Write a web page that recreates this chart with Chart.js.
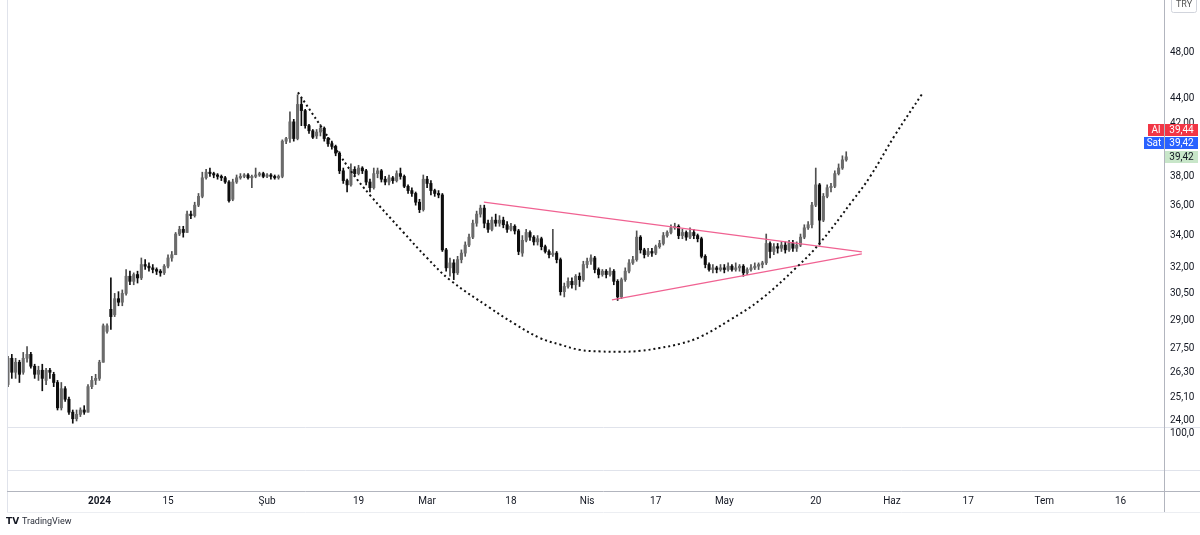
<!DOCTYPE html>
<html><head><meta charset="utf-8">
<script src="https://cdn.jsdelivr.net/npm/chart.js@4/dist/chart.umd.min.js"></script>
<style>html,body{margin:0;padding:0;background:#fff;}canvas{display:block}</style>
</head><body>
<canvas id="c" width="1200" height="535"></canvas>
<script>
// ---- data (half-day bars, index 0 = mid Dec 2023) ----
const opens = [
25.7,27.0,26.3,26.8,26.3,27.0,27.2,26.6,26.2,26.4,
25.9,26.4,26.2,25.8,24.6,25.5,25.0,24.4,24.1,24.3,
24.5,24.4,25.6,25.9,26.0,26.8,28.4,29.6,29.3,30.2,
30.0,30.5,31.5,31.2,31.6,31.4,32.2,32.1,32.0,31.9,
31.8,31.7,32.1,32.6,32.8,34.1,34.4,34.2,35.4,35.3,
36.0,36.6,37.9,38.3,38.2,38.1,38.0,37.9,37.6,36.4,
37.6,37.9,38.0,38.1,37.9,38.0,38.1,38.2,38.0,38.1,
38.0,37.9,38.0,40.6,40.8,42.1,40.8,43.5,43.0,41.8,
41.4,41.0,41.3,41.6,40.8,40.4,40.2,39.7,38.4,37.7,
37.4,38.5,38.2,38.6,38.4,37.6,37.2,38.2,38.4,37.8,
37.6,37.9,37.7,38.2,38.0,37.3,37.0,36.8,36.2,35.7,
37.8,37.5,37.0,36.8,36.7,33.1,32.0,32.3,31.7,32.5,
32.9,33.4,33.9,34.8,35.4,35.8,34.8,34.4,35.0,34.8,
35.0,34.7,34.4,34.6,34.3,32.9,33.7,34.2,33.9,33.6,
33.8,33.3,33.0,32.8,32.9,32.5,30.6,30.9,31.2,31.0,
31.5,31.3,32.2,32.4,32.6,31.9,31.6,31.8,31.6,31.8,
31.2,30.3,31.3,31.8,32.3,32.5,33.9,33.1,32.8,33.0,
32.9,33.3,33.5,34.0,34.2,34.5,34.6,34.0,34.2,33.9,
34.2,34.0,33.8,32.7,32.2,31.9,32.0,31.9,32.0,31.9,
32.1,31.9,32.0,32.1,31.7,31.9,32.0,32.1,32.2,32.3,
33.5,33.0,33.3,33.2,33.4,33.1,33.5,33.2,33.4,33.9,
34.5,34.7,36.0,37.4,35.0,36.6,37.2,37.3,38.2,38.6,
39.2];
const highs = [
27.1,27.2,27.0,26.9,27.3,27.6,27.3,26.7,26.6,26.7,
26.5,26.5,26.3,25.9,25.8,25.6,25.1,24.5,24.5,24.6,
24.7,25.7,26.1,26.2,26.9,28.8,28.8,31.4,30.5,30.6,
30.7,31.9,31.8,31.7,31.8,32.6,32.5,32.3,32.2,32.0,
31.9,32.2,32.8,33.0,34.2,34.6,34.6,35.6,35.6,36.2,
36.8,38.3,38.5,38.6,38.3,38.2,38.1,38.0,37.7,37.8,
38.1,38.2,38.2,38.2,38.1,38.6,38.3,38.3,38.2,38.2,
38.1,38.1,40.7,40.9,42.9,42.3,44.3,44.0,43.1,41.9,
41.5,41.5,41.9,41.7,40.9,40.6,40.3,39.8,38.6,37.8,
38.9,38.7,38.8,38.7,38.5,37.8,38.6,38.6,38.5,38.0,
38.1,38.0,38.4,38.6,38.1,37.4,37.2,36.9,36.4,38.1,
38.0,37.7,37.1,37.0,36.8,33.2,32.6,32.5,32.7,33.1,
33.6,34.1,35.0,35.6,36.0,36.0,35.0,35.2,35.4,35.3,
35.2,34.9,34.8,34.7,34.4,34.0,34.4,34.3,34.0,34.0,
33.9,33.4,33.1,34.4,33.0,32.6,31.1,31.4,31.4,31.6,
31.7,32.4,32.6,32.8,32.7,32.0,31.9,31.9,32.0,31.9,
31.3,31.4,32.0,32.5,32.7,34.3,34.0,33.2,33.2,33.2,
33.4,33.7,34.2,34.3,34.7,34.8,34.7,34.4,34.3,34.5,
34.4,34.1,33.9,32.8,32.3,32.2,32.1,32.2,32.2,32.3,
32.2,32.3,32.2,32.2,32.0,32.2,32.3,32.3,32.4,34.1,
33.6,33.5,33.5,33.6,33.6,33.7,33.7,33.6,34.1,34.7,
34.9,36.2,38.6,37.5,36.8,37.4,37.5,38.4,38.9,39.5,
39.8];
const lows = [
25.6,26.0,26.0,25.8,26.2,26.8,26.5,26.0,25.9,25.4,
25.7,26.0,25.6,24.5,24.5,24.9,24.3,23.9,24.0,24.2,
24.3,24.4,25.5,25.7,25.9,26.8,28.3,28.5,29.2,29.8,
29.8,30.4,31.0,31.0,31.1,31.3,31.9,31.8,31.7,31.6,
31.5,31.6,32.0,32.4,32.8,34.0,33.9,34.2,35.1,35.2,
35.9,36.5,37.8,38.0,37.9,37.8,37.7,37.5,36.2,36.3,
37.5,37.8,37.9,37.8,37.2,37.9,38.0,37.9,37.9,37.8,
37.8,37.8,37.9,40.4,40.5,40.6,40.7,41.8,41.6,41.2,
40.8,40.8,41.0,40.6,40.2,40.0,39.5,38.2,37.5,36.9,
37.3,38.0,38.1,38.2,37.4,36.9,37.1,37.9,37.6,37.4,
37.4,37.5,37.6,37.8,37.2,36.8,36.6,36.0,35.5,35.6,
37.2,36.7,36.6,36.5,33.0,31.8,31.5,31.3,31.6,32.3,
32.7,33.3,33.8,34.6,35.2,34.5,34.2,34.3,34.6,34.6,
34.5,34.2,34.3,34.1,32.8,32.7,33.6,33.7,33.4,33.4,
33.1,32.9,32.6,32.7,32.3,30.4,30.3,30.8,30.8,30.7,
30.9,31.2,32.0,32.2,31.7,31.4,31.5,31.4,31.5,31.0,
30.1,30.2,31.2,31.7,32.2,32.4,32.9,32.6,32.7,32.7,
32.8,33.2,33.4,33.9,34.1,34.4,33.8,33.8,33.7,33.8,
33.8,33.6,32.6,32.0,31.8,31.7,31.7,31.8,31.7,31.8,
31.8,31.8,31.8,31.5,31.6,31.8,31.9,31.9,32.0,32.2,
32.6,32.8,32.9,33.0,32.9,33.0,33.0,33.0,33.3,33.8,
34.4,34.5,35.9,33.4,34.9,36.5,36.9,37.2,38.1,38.5,
39.1];
const closes = [
27.0,26.3,26.8,26.2,27.0,27.2,26.6,26.2,26.4,26.0,
26.4,26.3,25.8,24.6,25.5,25.0,24.4,24.1,24.3,24.5,
24.4,25.6,25.9,26.0,26.8,28.7,28.7,29.2,30.2,30.0,
30.5,31.5,31.2,31.6,31.4,32.2,32.1,32.0,31.9,31.8,
31.7,32.1,32.6,32.8,34.1,34.4,34.2,35.4,35.3,36.0,
36.6,37.9,38.3,38.2,38.1,38.0,37.9,37.6,36.3,37.6,
37.9,38.0,38.1,37.9,38.0,38.1,38.2,38.0,38.1,38.0,
37.9,38.0,40.6,40.8,42.1,40.8,43.5,43.0,41.8,41.4,
40.9,41.3,41.6,40.8,40.4,40.2,39.7,38.4,37.7,37.4,
38.5,38.2,38.6,38.4,37.6,37.2,38.2,38.4,37.8,37.6,
37.9,37.7,38.2,38.0,37.3,37.0,36.8,36.2,35.7,37.8,
37.5,37.0,36.8,36.7,33.1,32.0,32.3,31.7,32.5,32.9,
33.4,33.9,34.8,35.4,35.8,34.8,34.4,35.0,34.8,35.0,
34.7,34.4,34.6,34.3,33.0,33.7,34.2,33.9,33.6,33.8,
33.3,33.0,32.8,32.9,32.5,30.6,30.9,31.2,31.0,31.5,
31.3,32.2,32.4,32.6,31.9,31.6,31.8,31.6,31.8,31.2,
30.3,31.3,31.8,32.3,32.5,33.9,33.1,32.8,33.0,32.9,
33.3,33.5,34.0,34.2,34.5,34.6,34.0,34.2,33.9,34.2,
34.0,33.8,32.7,32.2,31.9,32.0,31.9,32.0,31.9,32.1,
31.9,32.0,32.1,31.7,31.9,32.0,32.1,32.2,32.3,33.5,
33.0,33.3,33.2,33.4,33.1,33.5,33.2,33.4,33.9,34.5,
34.7,36.0,37.4,35.0,36.6,37.2,37.3,38.2,38.6,39.2,
39.42];

const xTickPositions = [24,42,68,92,110,132,152,170,188,212,232,252,272,292];
const xTickLabels = ['2024','15','Şub','19','Mar','18','Nis','17','May','20','Haz','17','Tem','16'];
const yTickValues = [24,25.1,26.3,27.5,29,30.5,32,34,36,38,42,44,48];

// cup curve drawing (bar index, price)
const curveX = [76.1,81.9,89.8,95.0,103.7,110.0,116.0,126.5,133.0,139.6,145.0,150.1,155.5,160.6,166.0,171.1,176.5,181.6,189.5,197.4,207.1,213.1,221.8,226.2,232.8,239.9];
const curveY = [44.5,41.85,38.46,36.69,34.23,32.6,31.28,29.68,28.8,28.05,27.7,27.43,27.35,27.33,27.38,27.53,27.75,28.1,29.02,30.13,32.06,33.53,36.35,37.96,41.07,44.36];
// triangle trend lines
const upperLineX = [124.9,224.1], upperLineY = [36.2,32.98];
const lowerLineX = [158.5,224.1], lowerLineY = [30.13,32.85];
const askPrice = 39.44, bidPrice = 39.42, lastPrice = 39.42;
const currency = 'TRY', lowerPaneLabel = '100,0';

const fmt = v => v.toFixed(2).replace('.', ',');
const wickData = lows.map((l,i)=>({x:i, y:[l, highs[i]]}));
const bodyData = opens.map((o,i)=>({x:i, y:[o, closes[i]]}));
const isUp = opens.map((o,i)=>closes[i] >= o);
const bodyColors = isUp.map(u => u ? '#6b6b6b' : '#0d0d0d');
const wickColors = isUp.map(u => u ? '#505050' : '#0d0d0d');

const decor = {
  id:'decor',
  afterDraw(chart){
    const ctx = chart.ctx, ys = chart.scales.y;
    ctx.save();
    const h = (y,x1,x2,c)=>{ctx.strokeStyle=c;ctx.beginPath();ctx.moveTo(x1,y);ctx.lineTo(x2,y);ctx.stroke();};
    const v = (x,y1,y2,c)=>{ctx.strokeStyle=c;ctx.beginPath();ctx.moveTo(x,y1);ctx.lineTo(x,y2);ctx.stroke();};
    ctx.lineWidth = 1;
    v(7.5,0,512,'#e0e3eb');
    h(427.5,7,1200,'#e0e3eb');
    h(470.5,7,1200,'#e0e3eb');
    h(491.5,7,1200,'#b2b5be');
    h(512.5,7,1200,'#eceef2');
    v(1164.5,0,512,'#b2b5be');
    ctx.font = '10px Roboto';
    ctx.fillStyle = '#131722';
    ctx.textBaseline = 'middle';
    ctx.textAlign = 'left';
    ctx.fillText(lowerPaneLabel, 1170, 433);
    // currency box
    ctx.strokeStyle = '#d1d4dc';
    ctx.beginPath(); ctx.roundRect(1171.5,-3.5,25,16,2); ctx.stroke();
    ctx.fillStyle = '#555';
    ctx.font = '9px Roboto';
    ctx.textAlign = 'center';
    ctx.fillText(currency, 1184, 5);
    // price labels
    const yl = ys.getPixelForValue(lastPrice);
    const box = (x,y,w,hh,fill,txt,col,bold)=>{
      ctx.fillStyle = fill; ctx.fillRect(x,y,w,hh);
      ctx.fillStyle = col; ctx.font = (bold?'bold ':'')+'10px Roboto';
      ctx.textAlign='center'; ctx.fillText(txt, x+w/2, y+hh/2+0.5);
    };
    box(1165, Math.round(yl-6), 33, 12, '#c8e6c9', fmt(lastPrice), '#131722');
    box(1165, Math.round(yl-20), 33, 12, '#2962ff', fmt(bidPrice), '#ffffff');
    box(1144, Math.round(yl-20), 20, 12, '#2962ff', 'Sat', '#ffffff');
    box(1165, Math.round(yl-33), 33, 12, '#f23645', fmt(askPrice), '#ffffff');
    box(1148, Math.round(yl-33), 16, 12, '#f23645', 'Al', '#ffffff');
    // TradingView logo text
    ctx.fillStyle = '#131722';
    ctx.font = 'bold 9px "DejaVu Sans"';
    ctx.textAlign = 'left';
    ctx.fillText('TV', 6, 522);
    ctx.font = '9px Roboto';
    ctx.fillStyle = '#2a2e39';
    ctx.fillText('TradingView', 22, 522);
    ctx.restore();
  }
};

new Chart(document.getElementById('c'), {
  type: 'bar',
  data: {
    datasets: [
      {type:'line', data: curveX.map((x,i)=>({x, y:curveY[i]})), borderColor:'#111', borderWidth:2, borderDash:[2,3], pointRadius:0, tension:0.4, order:0},
      {type:'line', data: upperLineX.map((x,i)=>({x, y:upperLineY[i]})), borderColor:'#f06292', borderWidth:1.2, pointRadius:0, order:0},
      {type:'line', data: lowerLineX.map((x,i)=>({x, y:lowerLineY[i]})), borderColor:'#f06292', borderWidth:1.2, pointRadius:0, order:0},
      {data: bodyData, backgroundColor: bodyColors, barThickness: 2.4, minBarLength: 1, grouped:false, order:1},
      {data: wickData, backgroundColor: wickColors, barThickness: 1, grouped:false, order:2}
    ]
  },
  options: {
    responsive:false, animation:false, devicePixelRatio:1,
    layout:{padding:{left:7,top:0,right:0,bottom:0}},
    plugins:{legend:{display:false}, tooltip:{enabled:false}},
    scales:{
      x:{type:'linear', min:-0.26, max:303.4, offset:false,
        grid:{display:false, drawTicks:false}, border:{display:false},
        afterBuildTicks: s => { s.ticks = xTickPositions.map(v=>({value:v})); },
        afterFit: s => { s.height = 108; s.paddingLeft = 0; s.paddingRight = 0; },
        ticks:{autoSkip:false, maxRotation:0, padding:68, color:'#131722',
          font: c => ({family:'Roboto', size:10, weight: c.index===0 ? 'bold':'normal'}),
          callback: (val, idx) => xTickLabels[idx]}
      },
      y:{type:'logarithmic', position:'right', min:23.73, max:52.93,
        grid:{display:false, drawTicks:false}, border:{display:false},
        afterBuildTicks: s => { s.ticks = yTickValues.map(v=>({value:v})); },
        afterFit: s => { s.width = 36; s.paddingTop = 0; s.paddingBottom = 0; },
        ticks:{autoSkip:false, padding:6, color:'#131722', font:{family:'Roboto', size:10},
          callback: v => fmt(v)}
      }
    }
  },
  plugins:[decor]
});
</script>
</body></html>
